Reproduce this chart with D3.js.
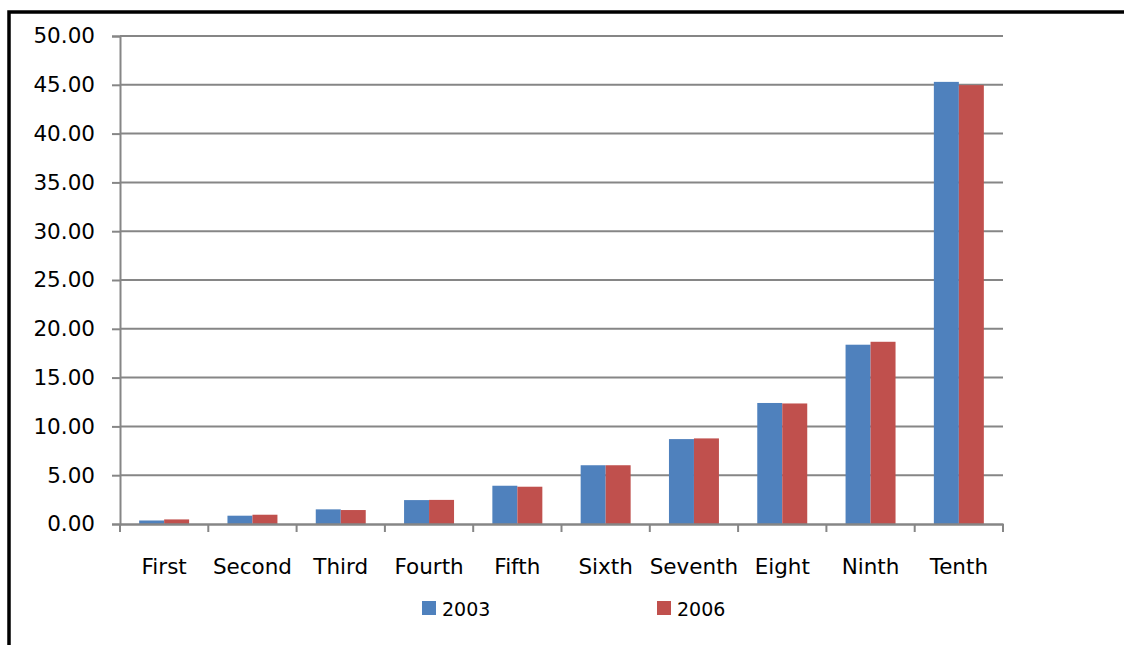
<!DOCTYPE html>
<html><head><meta charset="utf-8">
<script src="https://cdn.jsdelivr.net/npm/d3@7"></script>
<style>body{margin:0;background:#fff}svg{display:block}text{font-family:"DejaVu Sans",sans-serif;fill:#000}</style>
</head><body>
<svg id="c" width="1124" height="645"></svg>
<script>
const categories = ["First","Second","Third","Fourth","Fifth","Sixth","Seventh","Eight","Ninth","Tenth"];
const seriesNames = ["2003","2006"];
const values2003 = [0.36,0.85,1.50,2.45,3.92,6.02,8.70,12.40,18.37,45.30];
const values2006 = [0.47,0.95,1.43,2.47,3.82,6.02,8.77,12.35,18.67,44.97];
const yTicks = [0,5,10,15,20,25,30,35,40,45,50];
const colors = ["#4F81BD","#C0504D"];

(function(){
const FONT = '"DejaVu Sans",sans-serif';
const svg = d3.select("#c");
const pL = 120, pR = 1003, pT = 36, pB = 524;
const x = d3.scaleBand().domain(categories).range([pL,pR]).paddingInner(0.434).paddingOuter(0.217);
const xs = d3.scaleBand().domain(seriesNames).range([0,x.bandwidth()]);
const y = d3.scaleLinear().domain([0,50]).range([pB,pT]);

// frame
svg.append("path").attr("d","M9,645V12H1124").attr("fill","none").attr("stroke","#000").attr("stroke-width",3.5);

// y axis
const ya = svg.append("g").attr("transform",`translate(${pL},0)`)
  .call(d3.axisLeft(y).tickValues(yTicks).tickFormat(d3.format(".2f")).tickSize(8).tickPadding(17));
ya.select(".domain").attr("stroke","#868686").attr("stroke-width",2);
ya.selectAll(".tick line").attr("stroke","#868686").attr("stroke-width",2);
ya.selectAll(".tick text").attr("font-size",21.5).attr("font-family",FONT).attr("fill","#000");
svg.append("g").selectAll("line").data(yTicks.filter(d=>d>0)).join("line")
  .attr("x1",pL).attr("x2",pR).attr("y1",d=>y(d)).attr("y2",d=>y(d))
  .attr("stroke","#868686").attr("stroke-width",2);

// bars
const data = categories.map((c,i)=>({c, v:[values2003[i],values2006[i]]}));
const g = svg.append("g").selectAll("g").data(data).join("g").attr("transform",d=>`translate(${x(d.c)},0)`);
g.selectAll("rect").data(d=>d.v.map((v,j)=>({s:seriesNames[j],v,j}))).join("rect")
  .attr("x",d=>xs(d.s)).attr("width",xs.bandwidth()).attr("y",d=>y(d.v)).attr("height",d=>pB-y(d.v))
  .attr("fill",d=>colors[d.j]);

// x axis
const xa = svg.append("g").attr("transform",`translate(0,${pB})`)
  .call(d3.axisBottom(x).tickSize(0).tickPadding(35));
xa.select(".domain").attr("stroke","#868686").attr("stroke-width",2.5);
xa.selectAll(".tick text").attr("font-size",21.5).attr("font-family",FONT).attr("fill","#000");
const step = x.step();
svg.append("g").selectAll("line").data(d3.range(categories.length+1)).join("line")
  .attr("x1",i=>pL+i*step).attr("x2",i=>pL+i*step).attr("y1",pB).attr("y2",pB+8)
  .attr("stroke","#868686").attr("stroke-width",2);

// legend
const legX = [422,657];
const lg = svg.append("g").selectAll("g").data(seriesNames).join("g").attr("transform",(d,i)=>`translate(${legX[i]},601)`);
lg.append("rect").attr("width",14).attr("height",14).attr("fill",(d,i)=>colors[i]);
lg.append("text").attr("x",20).attr("y",14.5).attr("font-size",19).attr("font-family",FONT).text(d=>d);
})();
</script>
</body></html>
